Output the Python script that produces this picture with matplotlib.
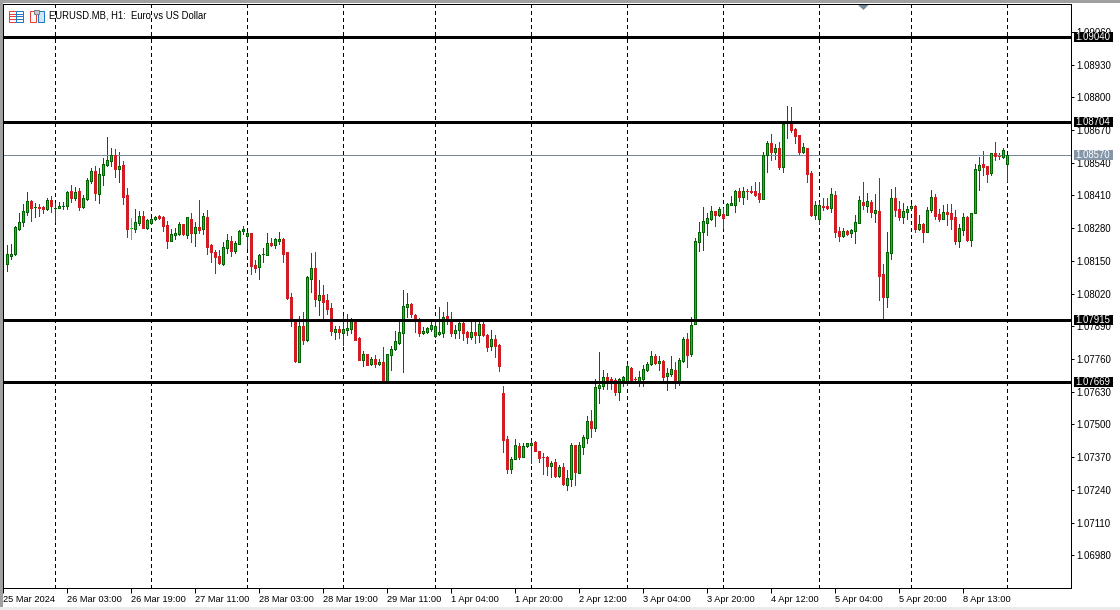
import matplotlib.pyplot as plt
from matplotlib.patches import Polygon, Rectangle
import numpy as np

# EURUSD H1 candles, prices kept as points above 1.07000
base_price = 1.07

opens = [
    1136, 1169, 1176, 1277, 1303, 1346, 1388, 1363, 1363, 1364,
    1358, 1392, 1360, 1362, 1367, 1369, 1428, 1400, 1428, 1364,
    1396, 1469, 1507, 1417, 1493, 1531, 1548, 1570, 1515, 1531,
    1412, 1279, 1277, 1301, 1328, 1281, 1301, 1318, 1328, 1324,
    1293, 1229, 1253, 1257, 1297, 1253, 1316, 1261, 1285, 1277,
    1324, 1213, 1185, 1169, 1138, 1201, 1229, 1189, 1217, 1270,
    1249, 1261, 1134, 1126, 1177, 1174, 1222, 1214, 1230, 1237,
    1186, 1007, 915, 749, 892, 836, 1078, 1122, 995, 1015,
    995, 963, 868, 880, 863, 876, 880, 912, 844, 757,
    780, 741, 760, 741, 749, 673, 776, 800, 824, 864,
    967, 979, 935, 912, 864, 869, 880, 853, 860, 864,
    931, 908, 864, 876, 904, 868, 848, 868, 856, 900,
    856, 812, 840, 816, 625, 442, 323, 363, 415, 371,
    415, 419, 431, 395, 370, 371, 335, 351, 295, 331,
    260, 283, 419, 307, 411, 446, 514, 486, 645, 653,
    689, 681, 677, 629, 677, 669, 725, 681, 673, 681,
    717, 741, 772, 745, 753, 693, 701, 717, 669, 752,
    840, 780, 901, 1226, 1265, 1301, 1317, 1349, 1333, 1337,
    1333, 1373, 1373, 1428, 1404, 1428, 1426, 1428, 1420, 1396,
    1569, 1619, 1583, 1599, 1524, 1697, 1699, 1675, 1651, 1583,
    1599, 1500, 1333, 1317, 1369, 1369, 1361, 1412, 1269, 1249,
    1269, 1261, 1269, 1302, 1384, 1368, 1384, 1340, 1348, 1098,
    1006, 1181, 1400, 1356, 1324, 1344, 1360, 1368, 1276, 1296,
    1265, 1352, 1404, 1336, 1316, 1344, 1340, 1324, 1229, 1272,
    1324, 1233, 1340, 1511, 1535, 1527, 1499, 1579, 1567, 1563,
    1535,
]
closes = [
    1176, 1176, 1285, 1305, 1348, 1388, 1362, 1364, 1362, 1358,
    1392, 1368, 1361, 1368, 1368, 1424, 1401, 1424, 1364, 1400,
    1472, 1507, 1420, 1495, 1535, 1551, 1570, 1515, 1527, 1404,
    1277, 1280, 1305, 1328, 1281, 1312, 1316, 1324, 1320, 1289,
    1229, 1257, 1261, 1297, 1257, 1324, 1261, 1285, 1273, 1328,
    1205, 1185, 1165, 1142, 1205, 1233, 1189, 1221, 1269, 1277,
    1261, 1130, 1122, 1173, 1178, 1222, 1214, 1237, 1237, 1178,
    1003, 915, 753, 892, 836, 1086, 1122, 999, 1015, 987,
    959, 872, 880, 868, 880, 884, 912, 836, 757, 780,
    737, 760, 741, 749, 673, 780, 800, 832, 868, 971,
    979, 939, 919, 864, 872, 884, 896, 892, 868, 927,
    919, 864, 876, 904, 864, 848, 868, 856, 900, 856,
    808, 840, 812, 733, 439, 323, 363, 419, 371, 415,
    427, 427, 395, 367, 369, 335, 347, 295, 331, 264,
    287, 419, 311, 419, 450, 514, 486, 649, 657, 689,
    677, 672, 629, 681, 689, 733, 677, 680, 689, 721,
    741, 772, 745, 753, 689, 705, 721, 669, 757, 840,
    776, 896, 1229, 1265, 1309, 1321, 1349, 1333, 1357, 1321,
    1377, 1381, 1428, 1404, 1428, 1427, 1425, 1412, 1396, 1571,
    1619, 1583, 1599, 1524, 1695, 1698, 1671, 1647, 1583, 1603,
    1496, 1333, 1373, 1373, 1363, 1361, 1416, 1265, 1249, 1269,
    1257, 1273, 1304, 1392, 1372, 1388, 1344, 1352, 1090, 1006,
    1185, 1400, 1352, 1324, 1348, 1356, 1368, 1276, 1296, 1265,
    1352, 1404, 1328, 1316, 1344, 1336, 1316, 1229, 1280, 1324,
    1233, 1340, 1515, 1531, 1523, 1495, 1579, 1567, 1566, 1590,
    1571,
]
highs = [
    1212, 1217, 1289, 1340, 1376, 1424, 1392, 1379, 1376, 1368,
    1400, 1408, 1379, 1384, 1384, 1428, 1452, 1444, 1440, 1412,
    1479, 1519, 1527, 1519, 1559, 1642, 1599, 1595, 1583, 1547,
    1440, 1320, 1356, 1348, 1348, 1316, 1320, 1328, 1332, 1328,
    1309, 1277, 1281, 1305, 1297, 1324, 1340, 1305, 1392, 1340,
    1352, 1217, 1193, 1193, 1225, 1257, 1249, 1229, 1273, 1289,
    1265, 1261, 1154, 1177, 1202, 1261, 1241, 1241, 1265, 1241,
    1186, 1023, 915, 931, 947, 1090, 1182, 1186, 1074, 1055,
    1019, 983, 892, 892, 931, 939, 923, 912, 848, 792,
    780, 768, 776, 760, 808, 780, 812, 872, 908, 1035,
    1023, 983, 939, 923, 888, 888, 908, 912, 967, 947,
    987, 947, 896, 908, 908, 872, 908, 908, 908, 908,
    860, 876, 856, 820, 653, 454, 371, 442, 427, 427,
    427, 439, 435, 395, 387, 375, 355, 363, 339, 347,
    319, 427, 419, 431, 458, 534, 558, 681, 788, 717,
    705, 689, 685, 685, 693, 741, 729, 689, 713, 737,
    749, 792, 780, 772, 757, 725, 772, 749, 764, 848,
    864, 927, 1241, 1305, 1365, 1341, 1369, 1349, 1365, 1361,
    1381, 1408, 1432, 1440, 1444, 1436, 1448, 1464, 1464, 1583,
    1627, 1655, 1615, 1623, 1703, 1766, 1762, 1679, 1651, 1619,
    1599, 1508, 1389, 1385, 1400, 1400, 1440, 1428, 1285, 1281,
    1273, 1277, 1332, 1408, 1463, 1420, 1392, 1416, 1479, 1137,
    1265, 1435, 1443, 1388, 1380, 1368, 1376, 1372, 1332, 1300,
    1364, 1432, 1416, 1356, 1372, 1376, 1376, 1352, 1296, 1340,
    1328, 1340, 1535, 1563, 1587, 1527, 1579, 1622, 1579, 1598,
    1571,
]
lows = [
    1111, 1159, 1175, 1273, 1289, 1334, 1309, 1326, 1328, 1342,
    1352, 1344, 1305, 1360, 1358, 1356, 1384, 1392, 1352, 1360,
    1392, 1461, 1392, 1380, 1452, 1527, 1527, 1483, 1464, 1376,
    1245, 1237, 1265, 1293, 1281, 1277, 1297, 1312, 1318, 1269,
    1201, 1229, 1237, 1253, 1253, 1241, 1225, 1209, 1261, 1257,
    1177, 1146, 1102, 1138, 1134, 1181, 1169, 1181, 1217, 1257,
    1201, 1098, 1106, 1078, 1146, 1174, 1210, 1202, 1218, 1146,
    999, 892, 749, 749, 820, 832, 1027, 971, 935, 923,
    939, 856, 840, 844, 816, 856, 864, 836, 757, 733,
    737, 737, 729, 737, 670, 664, 717, 796, 820, 709,
    927, 927, 868, 852, 860, 864, 872, 848, 856, 848,
    900, 852, 844, 844, 836, 824, 840, 824, 828, 852,
    792, 796, 768, 713, 391, 307, 307, 363, 363, 371,
    411, 347, 395, 351, 303, 299, 291, 291, 291, 260,
    240, 256, 260, 307, 383, 427, 450, 474, 586, 641,
    641, 641, 617, 597, 653, 657, 677, 673, 653, 653,
    713, 737, 741, 717, 673, 637, 693, 645, 657, 748,
    729, 772, 900, 1190, 1194, 1253, 1313, 1289, 1329, 1281,
    1333, 1373, 1345, 1389, 1377, 1396, 1420, 1408, 1385, 1396,
    1504, 1552, 1555, 1516, 1504, 1639, 1663, 1619, 1575, 1579,
    1464, 1329, 1317, 1297, 1353, 1357, 1345, 1245, 1230, 1245,
    1253, 1245, 1221, 1300, 1356, 1344, 1324, 1304, 994, 915,
    966, 1157, 1328, 1312, 1300, 1316, 1356, 1265, 1272, 1225,
    1265, 1344, 1316, 1308, 1316, 1292, 1276, 1217, 1205, 1253,
    1229, 1209, 1340, 1432, 1491, 1463, 1491, 1551, 1555, 1559,
    1467,
]
lime_bars = [31]

level_prices = [1.09040, 1.08704, 1.07915, 1.07669]
last_price = 1.08570
price_ticks = [1.09060, 1.08930, 1.08800, 1.08670, 1.08540, 1.08410, 1.08280, 1.08150, 1.08020,
               1.07890, 1.07760, 1.07630, 1.07500, 1.07370, 1.07240, 1.07110, 1.06980]
day_bars = [12, 36, 60, 84, 107, 131, 155, 179, 203, 226, 250]
time_bars = [-1, 15, 31, 47, 63, 79, 95, 111, 127, 143, 159, 175, 191, 207, 223, 239]
time_labels = ["25 Mar 2024", "26 Mar 03:00", "26 Mar 19:00", "27 Mar 11:00", "28 Mar 03:00",
               "28 Mar 19:00", "29 Mar 11:00", "1 Apr 04:00", "1 Apr 20:00", "2 Apr 12:00",
               "3 Apr 04:00", "3 Apr 20:00", "4 Apr 12:00", "5 Apr 04:00", "5 Apr 20:00", "8 Apr 13:00"]

bars = np.arange(len(opens))
o = base_price + np.array(opens) / 1e5
c = base_price + np.array(closes) / 1e5
h = base_price + np.array(highs) / 1e5
l = base_price + np.array(lows) / 1e5
up = c >= o

plt.rcParams["font.family"] = ["Liberation Sans", "DejaVu Sans"]
W, H = 1120, 610
left, right, top, bottom = 3, 1071, 4, 588
px = 72 / 100  # one pixel in points

fig = plt.figure(figsize=(W / 100, H / 100), dpi=100, facecolor="white")
ax = fig.add_axes([left / W, 1 - bottom / H, (right - left) / W, (bottom - top) / H])

# 4 pixels per bar, first bar centred at x=7
ax.set_xlim((left - 7) / 4, (right - 7) / 4)
ax.set_ylim(1.06850, 1.09171)
price_per_px = (1.09171 - 1.06850) / (bottom - top)

for b in day_bars:
    ax.axvline(b, color="black", lw=px, ls=(0, (4, 3)), zorder=1, antialiased=False)

wick_colors = np.where(up, "#006400", "#a81c22")
ax.vlines(bars, l, h, colors=wick_colors, lw=px, zorder=2, antialiased=False)
ax.bar(bars[up], (c - o)[up], bottom=o[up], width=0.5, color="#00d000", edgecolor="#006400",
       linewidth=px, zorder=3, antialiased=False)
ax.bar(bars[~up], (o - c)[~up], bottom=c[~up], width=0.5, color="#d01c22", edgecolor="#d01c22",
       linewidth=px, zorder=3, antialiased=False)
ax.vlines(bars[lime_bars], l[lime_bars], h[lime_bars], colors="#00ff00", lw=px, zorder=3, antialiased=False)
ax.bar(bars[lime_bars], 0.00004, bottom=c[lime_bars] - 0.00002, width=0.5, color="#00ff00", edgecolor="#00ff00",
       linewidth=0, zorder=4, antialiased=False)

ax.axhline(last_price, color="#778899", lw=px, zorder=2, antialiased=False)
for p in level_prices:
    ax.axhline(p, color="black", lw=3 * px, zorder=5, antialiased=False)

ax.yaxis.tick_right()
ax.set_yticks(price_ticks)
ax.set_yticklabels([f"{p:.5f}" for p in price_ticks])
ax.tick_params(axis="y", length=3 * px, width=px, pad=1.5, labelsize=6.9, color="black")
ax.set_xticks(time_bars)
ax.set_xticklabels(time_labels, ha="left")
ax.tick_params(axis="x", length=5 * px, width=px, pad=1.5, labelsize=6.7, color="black")
for s in ax.spines.values():
    s.set_linewidth(px)

# price boxes on the right scale
box_tr = ax.get_yaxis_transform()
for p, col in [(v, "black") for v in level_prices] + [(last_price, "#8496a8")]:
    ax.add_patch(Rectangle((1.0028, p - 5 * price_per_px), 39.5 / (right - left), 10 * price_per_px,
                           transform=box_tr, facecolor=col, edgecolor="none", clip_on=False, zorder=6))
    ax.text(1.0045, p, f"{p:.5f}", transform=box_tr, color="white", fontsize=6.9, va="center", ha="left",
            clip_on=False, zorder=7)

# window furniture in pixel coordinates
over = fig.add_axes([0, 0, 1, 1], facecolor="none")
over.set_xlim(0, W)
over.set_ylim(H, 0)
over.axis("off")
over.add_patch(Rectangle((0, 0), W, 3, facecolor="#a0a0a0", edgecolor="none"))
over.add_patch(Rectangle((0, 0), 2.5, H - 3, facecolor="#a0a0a0", edgecolor="none"))
over.add_patch(Rectangle((0, H - 3), W, 3, facecolor="#ececec", edgecolor="none"))
over.add_patch(Polygon([[858, 5], [868.5, 5], [863.5, 10]], facecolor="#778899", edgecolor="none"))
over.text(49, 16, "EURUSD.MB, H1:  Euro vs US Dollar", fontsize=6.85, va="center", ha="left", color="black")

# chart icons
over.add_patch(Rectangle((8.5, 10.5), 7, 11, facecolor="white", edgecolor="#e8403a", lw=px))
over.add_patch(Rectangle((15.5, 10.5), 7, 11, facecolor="white", edgecolor="#1f78c8", lw=px))
for row in [13.5, 16, 18.5]:
    over.plot([10, 14.5], [row, row], color="#e8403a", lw=px)
    over.plot([17, 21.5], [row, row], color="#1f78c8", lw=px)
over.add_patch(Polygon([[29.5, 10.5], [35.5, 10.5], [35.5, 21.5], [29.5, 21.5]], facecolor="white",
                       edgecolor="#e8403a", lw=px))
over.add_patch(Rectangle((37.5, 10.5), 6, 11, facecolor="#cfe6f8", edgecolor="#1f78c8", lw=px))
over.add_patch(Rectangle((33.5, 9.5), 5, 4, facecolor="#c8c8c8", edgecolor="#808080", lw=px))

fig.savefig("out.png", dpi=100, facecolor="white")
